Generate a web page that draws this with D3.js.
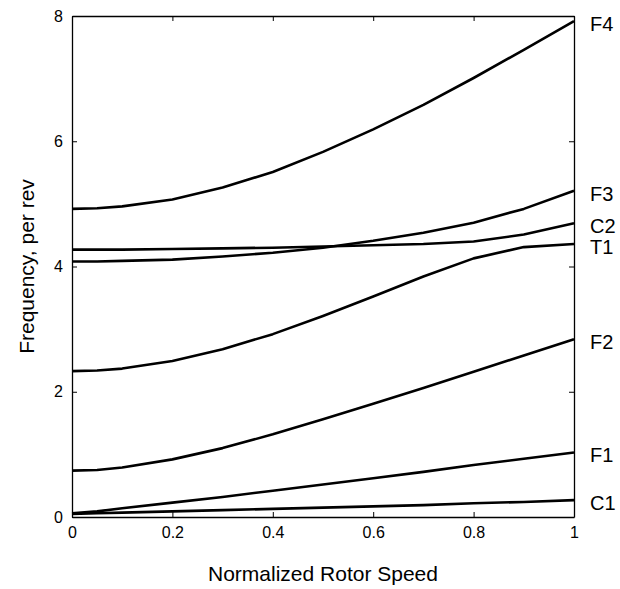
<!DOCTYPE html>
<html>
<head>
<meta charset="utf-8">
<script src="https://cdn.jsdelivr.net/npm/d3@7"></script>
<style>
  body { margin: 0; background: #fff; }
  text { font-family: "Liberation Sans", Arial, sans-serif; fill: #000; }
</style>
</head>
<body>
<div id="chart"></div>
<script>
// rotor speed points
var speed = [0, 0.05, 0.1, 0.2, 0.3, 0.4, 0.5, 0.6, 0.7, 0.8, 0.9, 1.0];

// frequency branches, per rev
var C1 = [0.05, 0.06, 0.07, 0.09, 0.11, 0.13, 0.15, 0.17, 0.19, 0.22, 0.24, 0.27];
var F1 = [0.06, 0.09, 0.14, 0.23, 0.32, 0.42, 0.52, 0.62, 0.72, 0.83, 0.93, 1.03];
var F2 = [0.74, 0.75, 0.79, 0.92, 1.10, 1.32, 1.56, 1.81, 2.06, 2.32, 2.58, 2.84];
var T1 = [2.33, 2.34, 2.37, 2.49, 2.68, 2.92, 3.21, 3.52, 3.84, 4.13, 4.31, 4.36];
var C2 = [4.27, 4.27, 4.27, 4.28, 4.29, 4.30, 4.32, 4.34, 4.36, 4.40, 4.51, 4.69];
var F3 = [4.08, 4.08, 4.09, 4.11, 4.16, 4.22, 4.30, 4.41, 4.54, 4.70, 4.92, 5.21];
var F4 = [4.92, 4.93, 4.96, 5.07, 5.26, 5.51, 5.83, 6.19, 6.58, 7.01, 7.46, 7.92];

var seriesNames = ["C1", "F1", "F2", "T1", "C2", "F3", "F4"];
var seriesVals = [C1, F1, F2, T1, C2, F3, F4];

var xTicks = [0, 0.2, 0.4, 0.6, 0.8, 1];
var yTicks = [0, 2, 4, 6, 8];

var W = 620, H = 589,
    margin = {top: 16, right: 46, bottom: 72, left: 72},
    width = W - margin.left - margin.right,
    height = H - margin.top - margin.bottom;

var svg = d3.select("#chart").append("svg")
    .attr("width", W)
    .attr("height", H);

var g = svg.append("g")
    .attr("transform", "translate(" + margin.left + "," + margin.top + ")");

var x = d3.scaleLinear().domain([0, 1]).range([0, width]),
    y = d3.scaleLinear().domain([0, 8]).range([height, 0]);

// axes, MATLAB style: inward ticks on all four sides
g.append("g")
    .attr("class", "axis")
    .attr("transform", "translate(0," + height + ")")
    .call(d3.axisBottom(x).tickValues(xTicks).tickSizeInner(-5).tickSizeOuter(0).tickPadding(10)
        .tickFormat(function(d) { return d3.format("")(d); }));

g.append("g")
    .attr("class", "axis")
    .call(d3.axisLeft(y).tickValues(yTicks).tickSizeInner(-5).tickSizeOuter(0).tickPadding(9));

g.append("g")
    .attr("class", "axis noLabel")
    .call(d3.axisTop(x).tickValues(xTicks).tickSizeInner(-5).tickSizeOuter(0));

g.append("g")
    .attr("class", "axis noLabel")
    .attr("transform", "translate(" + width + ",0)")
    .call(d3.axisRight(y).tickValues(yTicks).tickSizeInner(-5).tickSizeOuter(0));

g.selectAll(".noLabel text").remove();
g.selectAll(".axis .domain").attr("stroke", "#000").attr("stroke-width", 1.3);
g.selectAll(".axis line").attr("stroke", "#000");
g.selectAll(".axis text")
    .style("font-size", "16px")
    .attr("fill", "#000");

// curves
var line = d3.line()
    .x(function(d) { return x(d[0]); })
    .y(function(d) { return y(d[1]); });

var branches = seriesNames.map(function(name, i) {
    return {
        id: name,
        values: speed.map(function(s, j) { return [s, seriesVals[i][j]]; })
    };
});

g.selectAll(".branch")
    .data(branches)
    .enter().append("path")
    .attr("class", "branch")
    .attr("d", function(d) { return line(d.values); })
    .attr("fill", "none")
    .attr("stroke", "#000")
    .attr("stroke-width", 2.6)
    .attr("stroke-linejoin", "round");

// labels at the right end of each curve
g.selectAll(".endLabel")
    .data(branches)
    .enter().append("text")
    .attr("class", "endLabel")
    .attr("x", width + 16)
    .attr("y", function(d) { return y(d.values[d.values.length - 1][1]) + 3; })
    .attr("dy", "0.35em")
    .style("font-size", "20px")
    .text(function(d) { return d.id; });

// axis titles
svg.append("text")
    .attr("x", margin.left + width / 2)
    .attr("y", 581)
    .attr("text-anchor", "middle")
    .style("font-size", "21px")
    .text("Normalized Rotor Speed");

svg.append("text")
    .attr("transform", "translate(34," + (margin.top + height / 2) + ") rotate(-90)")
    .attr("text-anchor", "middle")
    .style("font-size", "21px")
    .text("Frequency, per rev");
</script>
</body>
</html>
